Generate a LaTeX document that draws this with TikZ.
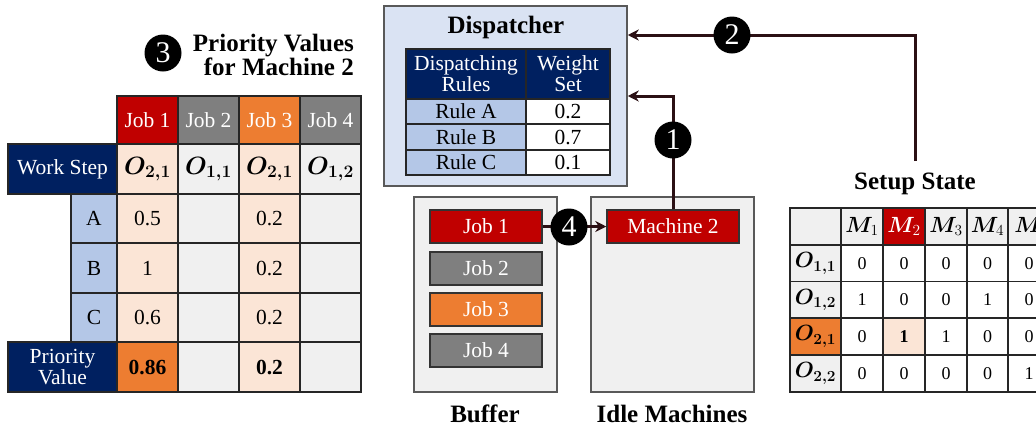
\RequirePackage{fix-cm}
\documentclass[tikz,border=0pt]{standalone}
\usepackage{fontspec}
\setmainfont{Liberation Serif}
\usepackage{bm}
\usetikzlibrary{arrows.meta}
\definecolor{navy}{HTML}{002060}
\definecolor{jred}{HTML}{C00000}
\definecolor{jgray}{HTML}{7F7F7F}
\definecolor{jorange}{HTML}{ED7D31}
\definecolor{lorange}{HTML}{FBE5D6}
\definecolor{lgray}{HTML}{F0F0F0}
\definecolor{lblue}{HTML}{B4C7E7}
\definecolor{dispbg}{HTML}{DAE3F3}
\definecolor{boxline}{HTML}{595959}
\definecolor{arrc}{HTML}{2B1014}
\tikzset{
  cell/.style={draw=black!85, line width=1.5pt, inner sep=0pt, outer sep=0pt, font=\fontsize{21.5}{21}\selectfont},
  mcell/.style={cell, font=\fontsize{25}{25}\selectfont},
  scell/.style={draw=black!85, line width=1.5pt, inner sep=0pt, outer sep=0pt, font=\fontsize{18}{18}\selectfont, minimum height=37pt},
  smcell/.style={scell, font=\fontsize{22}{22}\selectfont},
  dcell/.style={draw=black!85, line width=1.5pt, inner sep=0pt, outer sep=0pt, font=\fontsize{21.5}{21}\selectfont},
  numcirc/.style={circle, fill=black, text=white, minimum size=37pt, inner sep=0pt, font=\fontsize{30}{30}\selectfont},
  jobbox/.style={draw=black!80, line width=1.5pt, minimum width=112pt, minimum height=33pt, inner sep=0pt, text=white, font=\fontsize{21.5}{22}\selectfont},
  area/.style={draw=boxline, line width=1.5pt, fill=lgray, inner sep=0pt},
  ttl/.style={font=\fontsize{25}{24}\bfseries\selectfont, inner sep=0pt},
  arr/.style={draw=arrc, line width=3pt, -{Stealth[length=11pt,width=11pt]}},
}
\begin{document}
\begin{tikzpicture}[x=1pt,y=-1pt]
\path[use as bounding box, clip] (0,0) rectangle (1036,429);

% ---------------- Left table: Priority values
\node[ttl, align=right, anchor=east] (t3) at (354,55) {Priority Values\\for Machine 2};
\node[numcirc] (c3) at (163,53) {3};

\node[cell, minimum width=61pt, minimum height=48pt, fill=jred, text=white] (h1) at (147.5,120) {Job 1};
\node[cell, minimum width=61pt, minimum height=48pt, fill=jgray, text=white] (h2) at (208.5,120) {Job 2};
\node[cell, minimum width=61pt, minimum height=48pt, fill=jorange, text=white] (h3) at (269.5,120) {Job 3};
\node[cell, minimum width=61pt, minimum height=48pt, fill=jgray, text=white] (h4) at (330.5,120) {Job 4};

\node[cell, minimum width=109pt, minimum height=50pt, fill=navy, text=white] (ws) at (62.5,169) {Work Step};
\node[mcell, minimum width=61pt, minimum height=50pt, fill=lorange] (w1) at (147.5,169) {$\bm{O}_{\bm{2,1}}$};
\node[mcell, minimum width=61pt, minimum height=50pt, fill=lgray] (w2) at (208.5,169) {$\bm{O}_{\bm{1,1}}$};
\node[mcell, minimum width=61pt, minimum height=50pt, fill=lorange] (w3) at (269.5,169) {$\bm{O}_{\bm{2,1}}$};
\node[mcell, minimum width=61pt, minimum height=50pt, fill=lgray] (w4) at (330.5,169) {$\bm{O}_{\bm{1,2}}$};

\node[cell, minimum width=46pt, minimum height=49pt, fill=lblue] (ra) at (94,218.5) {A};
\node[cell, minimum width=61pt, minimum height=49pt, fill=lorange] (a1) at (147.5,218.5) {0.5};
\node[cell, minimum width=61pt, minimum height=49pt, fill=lgray] (a2) at (208.5,218.5) {};
\node[cell, minimum width=61pt, minimum height=49pt, fill=lorange] (a3) at (269.5,218.5) {0.2};
\node[cell, minimum width=61pt, minimum height=49pt, fill=lgray] (a4) at (330.5,218.5) {};

\node[cell, minimum width=46pt, minimum height=50pt, fill=lblue] (rb) at (94,268) {B};
\node[cell, minimum width=61pt, minimum height=50pt, fill=lorange] (b1) at (147.5,268) {1};
\node[cell, minimum width=61pt, minimum height=50pt, fill=lgray] (b2) at (208.5,268) {};
\node[cell, minimum width=61pt, minimum height=50pt, fill=lorange] (b3) at (269.5,268) {0.2};
\node[cell, minimum width=61pt, minimum height=50pt, fill=lgray] (b4) at (330.5,268) {};

\node[cell, minimum width=46pt, minimum height=49pt, fill=lblue] (rc) at (94,317.5) {C};
\node[cell, minimum width=61pt, minimum height=49pt, fill=lorange] (cc1) at (147.5,317.5) {0.6};
\node[cell, minimum width=61pt, minimum height=49pt, fill=lgray] (cc2) at (208.5,317.5) {};
\node[cell, minimum width=61pt, minimum height=49pt, fill=lorange] (cc3) at (269.5,317.5) {0.2};
\node[cell, minimum width=61pt, minimum height=49pt, fill=lgray] (cc4) at (330.5,317.5) {};

\node[cell, minimum width=109pt, minimum height=50pt, fill=navy, text=white, align=center] (pv) at (62.5,367) {Priority\\Value};
\node[cell, minimum width=61pt, minimum height=50pt, fill=jorange, font=\fontsize{21.5}{21}\bfseries\selectfont] (p1) at (147.5,367) {0.86};
\node[cell, minimum width=61pt, minimum height=50pt, fill=lgray] (p2) at (208.5,367) {};
\node[cell, minimum width=61pt, minimum height=50pt, fill=lorange, font=\fontsize{21.5}{21}\bfseries\selectfont] (p3) at (269.5,367) {0.2};
\node[cell, minimum width=61pt, minimum height=50pt, fill=lgray] (p4) at (330.5,367) {};

% ---------------- Dispatcher
\node[draw=boxline, line width=1.5pt, fill=dispbg, minimum width=243pt, minimum height=180pt, inner sep=0pt] (disp) at (505.5,96) {};
\node[ttl] (dt) at (506,27) {Dispatcher};
\node[dcell, minimum width=120pt, minimum height=50pt, fill=navy, text=white, align=center] (dh1) at (466,74) {Dispatching\\Rules};
\node[dcell, minimum width=84pt, minimum height=50pt, fill=navy, text=white, align=center] (dh2) at (568,74) {Weight\\Set};
\node[dcell, minimum width=120pt, minimum height=25pt, fill=lblue] (dra) at (466,111.5) {Rule A};
\node[dcell, minimum width=84pt, minimum height=25pt, fill=white] (dva) at (568,111.5) {0.2};
\node[dcell, minimum width=120pt, minimum height=26pt, fill=lblue] (drb) at (466,137) {Rule B};
\node[dcell, minimum width=84pt, minimum height=26pt, fill=white] (dvb) at (568,137) {0.7};
\node[dcell, minimum width=120pt, minimum height=25pt, fill=lblue] (drc) at (466,162.5) {Rule C};
\node[dcell, minimum width=84pt, minimum height=25pt, fill=white] (dvc) at (568,162.5) {0.1};

% ---------------- Buffer and idle machines
\node[area, minimum width=143pt, minimum height=195pt] (buf) at (485.5,294.5) {};
\node[area, minimum width=163pt, minimum height=195pt] (idle) at (672.5,294.5) {};
\node[ttl] (bufl) at (485,414) {Buffer};
\node[ttl] (idlel) at (672,414) {Idle Machines};

\node[jobbox, fill=jred] (j1) at (486,226.5) {Job 1};
\node[jobbox, fill=jgray] (j2) at (486,268.5) {Job 2};
\node[jobbox, fill=jorange] (j3) at (486,309.5) {Job 3};
\node[jobbox, fill=jgray] (j4) at (486,350.5) {Job 4};
\node[jobbox, fill=jred, minimum width=132pt] (m2) at (673,226.5) {Machine 2};

% ---------------- Setup state
\node[ttl] (st) at (915,184) {Setup State};
\node[scell, minimum width=51pt, fill=lgray] (s00) at (815.5,226.5) {};
\node[smcell, minimum width=42pt, fill=lgray] (s01) at (862,226.5) {$\bm{M}_{1}$};
\node[smcell, minimum width=42pt, fill=jred, text=white] (s02) at (904,226.5) {$\bm{M}_{2}$};
\node[smcell, minimum width=42pt, fill=lgray] (s03) at (946,226.5) {$\bm{M}_{3}$};
\node[smcell, minimum width=41pt, fill=lgray] (s04) at (987.5,226.5) {$\bm{M}_{4}$};
\node[smcell, minimum width=42pt, fill=lgray, anchor=west] (s05) at (1008,226.5) {\,$\bm{M}_{5}$};

\node[smcell, minimum width=51pt, fill=lgray] (s10) at (815.5,263.5) {$\bm{O}_{\bm{1,1}}$};
\node[scell, minimum width=42pt, fill=white] (s11) at (862,263.5) {0};
\node[scell, minimum width=42pt, fill=white] (s12) at (904,263.5) {0};
\node[scell, minimum width=42pt, fill=white] (s13) at (946,263.5) {0};
\node[scell, minimum width=41pt, fill=white] (s14) at (987.5,263.5) {0};
\node[scell, minimum width=42pt, fill=white] (s15) at (1029,263.5) {0};

\node[smcell, minimum width=51pt, fill=lgray] (s20) at (815.5,300) {$\bm{O}_{\bm{1,2}}$};
\node[scell, minimum width=42pt, fill=white] (s21) at (862,300) {1};
\node[scell, minimum width=42pt, fill=white] (s22) at (904,300) {0};
\node[scell, minimum width=42pt, fill=white] (s23) at (946,300) {0};
\node[scell, minimum width=41pt, fill=white] (s24) at (987.5,300) {1};
\node[scell, minimum width=42pt, fill=white] (s25) at (1029,300) {0};

\node[smcell, minimum width=51pt, fill=jorange] (s30) at (815.5,336.5) {$\bm{O}_{\bm{2,1}}$};
\node[scell, minimum width=42pt, fill=white] (s31) at (862,336.5) {0};
\node[scell, minimum width=42pt, fill=lorange, font=\fontsize{18}{18}\bfseries\selectfont] (s32) at (904,336.5) {1};
\node[scell, minimum width=42pt, fill=white] (s33) at (946,336.5) {1};
\node[scell, minimum width=41pt, fill=white] (s34) at (987.5,336.5) {0};
\node[scell, minimum width=42pt, fill=white] (s35) at (1029,336.5) {0};

\node[smcell, minimum width=51pt, fill=lgray] (s40) at (815.5,373.5) {$\bm{O}_{\bm{2,2}}$};
\node[scell, minimum width=42pt, fill=white] (s41) at (862,373.5) {0};
\node[scell, minimum width=42pt, fill=white] (s42) at (904,373.5) {0};
\node[scell, minimum width=42pt, fill=white] (s43) at (946,373.5) {0};
\node[scell, minimum width=41pt, fill=white] (s44) at (987.5,373.5) {0};
\node[scell, minimum width=42pt, fill=white] (s45) at (1029,373.5) {1};

% ---------------- Connectors
\coordinate (d1) at (disp.east |- 0,96);
\coordinate (d2) at (disp.east |- 0,35);
\coordinate (s2) at (915,161);
\draw[arr] (m2.north) |- (d1);
\draw[arr] (s2) |- (d2);
\draw[arr] (j1.east) -- (m2.west);
\node[numcirc] (c1) at (673,140) {1};
\node[numcirc] (c2) at (732,35) {2};
\node[numcirc] (c4) at (569,227) {4};
\end{tikzpicture}
\end{document}
